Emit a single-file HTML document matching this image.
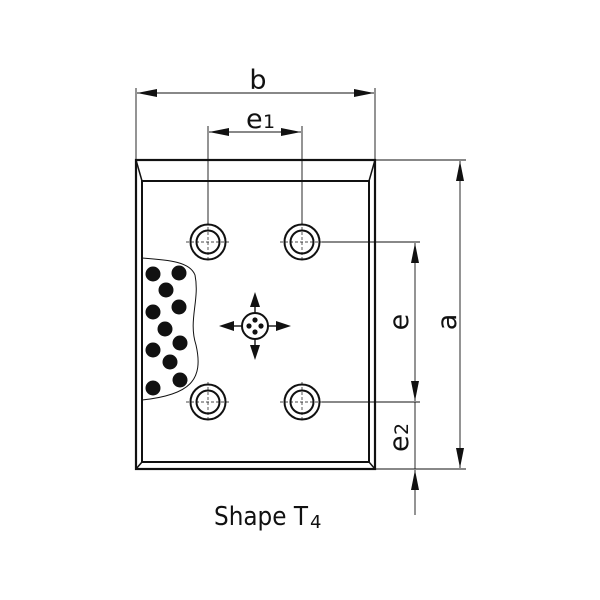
<!DOCTYPE html>
<html><head><style>html,body{margin:0;padding:0;background:#fff}svg{display:block}</style></head>
<body>
<svg width="600" height="600" viewBox="0 0 600 600" xmlns="http://www.w3.org/2000/svg">
<defs>
<marker id="ar" viewBox="0 0 20 8" refX="20" refY="4" markerWidth="20" markerHeight="8" markerUnits="userSpaceOnUse" orient="auto-start-reverse"><path d="M0,0 L20,4 L0,8 Z" fill="#111"/></marker>
</defs>
<g stroke="#111" fill="none">
<rect x="136" y="160" width="239" height="309" stroke-width="2.2"/>
<rect x="142" y="181" width="227" height="281" stroke-width="2"/>
<line x1="136" y1="160" x2="142" y2="181" stroke-width="1.5"/>
<line x1="375" y1="160" x2="369" y2="181" stroke-width="1.5"/>
<line x1="136" y1="469" x2="142" y2="462" stroke-width="1.5"/>
<line x1="375" y1="469" x2="369" y2="462" stroke-width="1.5"/>
<g stroke-width="0.9">
<line x1="136" y1="88" x2="136" y2="160"/>
<line x1="375" y1="88" x2="375" y2="160"/>
<line x1="208" y1="126" x2="208" y2="224"/>
<line x1="302" y1="126" x2="302" y2="224"/>
<line x1="375" y1="160" x2="466" y2="160"/>
<line x1="375" y1="469" x2="466" y2="469"/>
<line x1="322" y1="242" x2="420" y2="242"/>
<line x1="322" y1="402" x2="420" y2="402"/>
<line x1="137" y1="93" x2="374" y2="93" marker-start="url(#ar)" marker-end="url(#ar)"/>
<line x1="209" y1="132" x2="301" y2="132" marker-start="url(#ar)" marker-end="url(#ar)"/>
<line x1="460" y1="161" x2="460" y2="468" marker-start="url(#ar)" marker-end="url(#ar)"/>
<line x1="415" y1="243" x2="415" y2="401" marker-start="url(#ar)" marker-end="url(#ar)"/>
<line x1="415" y1="402" x2="415" y2="469"/>
<line x1="415" y1="515" x2="415" y2="470" marker-end="url(#ar)"/>
</g>
<g stroke-width="2">
<circle cx="208" cy="242" r="17.5"/><circle cx="208" cy="242" r="11.5"/>
<circle cx="302" cy="242" r="17.5"/><circle cx="302" cy="242" r="11.5"/>
<circle cx="208" cy="402" r="17.5"/><circle cx="208" cy="402" r="11.5"/>
<circle cx="302" cy="402" r="17.5"/><circle cx="302" cy="402" r="11.5"/>
</g>
<g stroke-width="0.7" stroke-dasharray="3,2">
<line x1="186" y1="242" x2="230" y2="242"/><line x1="208" y1="222" x2="208" y2="262"/>
<line x1="280" y1="242" x2="322" y2="242"/><line x1="302" y1="222" x2="302" y2="262"/>
<line x1="186" y1="402" x2="230" y2="402"/><line x1="208" y1="382" x2="208" y2="422"/>
<line x1="280" y1="402" x2="322" y2="402"/><line x1="302" y1="382" x2="302" y2="422"/>
</g>
<path d="M142,258 C170,260 190,262 195,275 C200,300 188,320 196,345 C204,380 190,395 142,400" stroke-width="1"/>
<circle cx="255" cy="326" r="13" stroke-width="2"/>
</g>
<g fill="#111">
<circle cx="153" cy="274" r="7.5"/><circle cx="179" cy="273" r="7.5"/><circle cx="166" cy="290" r="7.5"/>
<circle cx="153" cy="312" r="7.5"/><circle cx="179" cy="307" r="7.5"/><circle cx="165" cy="329" r="7.5"/>
<circle cx="180" cy="343" r="7.5"/><circle cx="153" cy="350" r="7.5"/><circle cx="170" cy="362" r="7.5"/>
<circle cx="153" cy="388" r="7.5"/><circle cx="180" cy="380" r="7.5"/>
<circle cx="255" cy="320" r="2.6"/><circle cx="255" cy="332" r="2.6"/><circle cx="249" cy="326" r="2.6"/><circle cx="261" cy="326" r="2.6"/>
<path d="M255,292 L250,307 L260,307 Z"/><rect x="254.3" y="306" width="1.4" height="7"/>
<path d="M255,360 L250,345 L260,345 Z"/><rect x="254.3" y="339" width="1.4" height="7"/>
<path d="M219,326 L234,321 L234,331 Z"/><rect x="233" y="325.3" width="9" height="1.4"/>
<path d="M291,326 L276,321 L276,331 Z"/><rect x="268" y="325.3" width="9" height="1.4"/>
</g>
<g font-family="'DejaVu Sans', sans-serif" fill="#111">
<text x="258" y="89" font-size="27" text-anchor="middle">b</text>
<text x="246" y="128" font-size="27">e</text><text x="263" y="128" font-size="19">1</text>
<text transform="translate(408,322) rotate(-90)" font-size="27" text-anchor="middle">e</text>
<text transform="translate(456,322) rotate(-90)" font-size="27" text-anchor="middle">a</text>
<text transform="translate(408,452) rotate(-90)" font-size="27">e</text>
<text transform="translate(408,435) rotate(-90)" font-size="19">2</text>
<text x="214" y="525" font-size="26" textLength="94" lengthAdjust="spacingAndGlyphs">Shape T</text><text x="310" y="528" font-size="18">4</text>
</g>
</svg>
</body></html>
